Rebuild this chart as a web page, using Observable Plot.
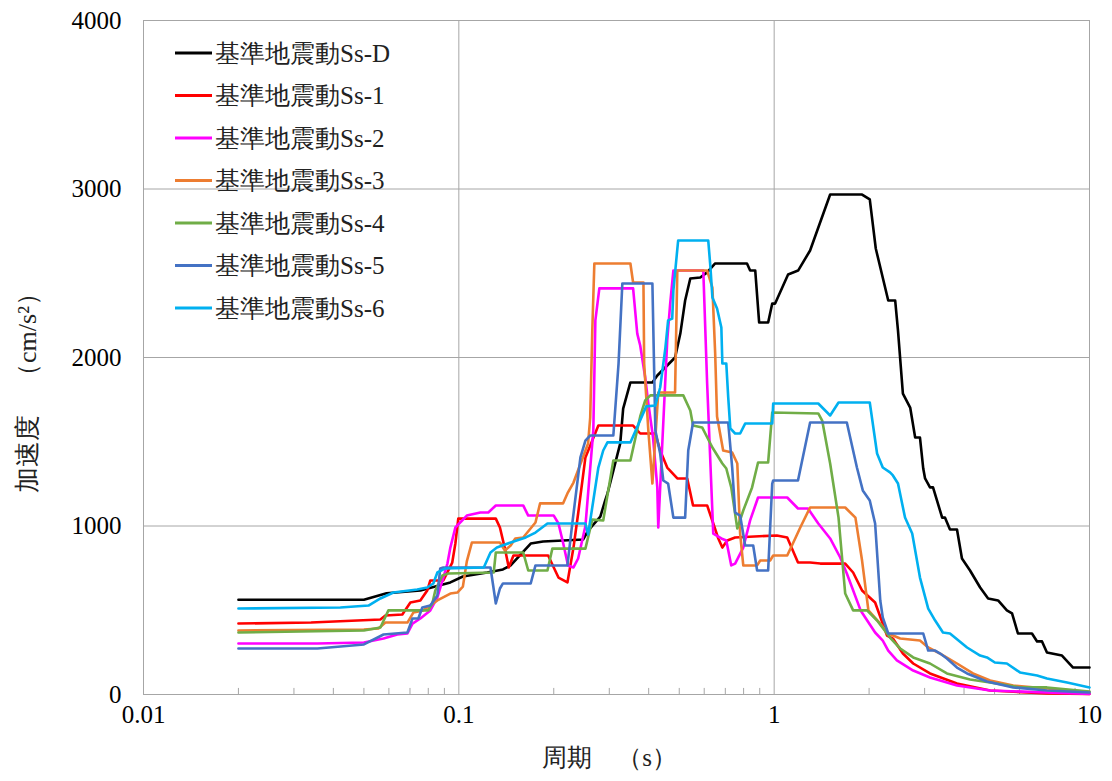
<!DOCTYPE html>
<html>
<head>
<meta charset="utf-8">
<script src="https://cdn.jsdelivr.net/npm/d3@7"></script>
<script src="https://cdn.jsdelivr.net/npm/@observablehq/plot@0.6"></script>
<style>
  html, body { margin: 0; padding: 0; background: #fff; }
  #chart { position: relative; width: 1112px; height: 781px; }
</style>
</head>
<body>
<div id="chart"></div>
<script>
// ---- Data: [period (s), acceleration (cm/s²)] ----
const seriesNames = ["基準地震動Ss-D","基準地震動Ss-1","基準地震動Ss-2","基準地震動Ss-3","基準地震動Ss-4","基準地震動Ss-5","基準地震動Ss-6"];
const seriesColors = ["#000000","#ff0000","#ff00ff","#ed7d31","#70ad47","#4472c4","#00b0f0"];

const ssD = [[0.02,562],[0.05,562],[0.059,601],[0.0755,617],[0.094,665],[0.103,700],[0.123,724],[0.138,742],[0.146,766],[0.169,896],[0.185,908],[0.248,920],[0.257,973],[0.281,1056],[0.291,1150],[0.296,1192],[0.309,1329],[0.325,1490],[0.332,1697],[0.35,1852],[0.411,1852],[0.426,1893],[0.485,2000],[0.504,2142],[0.522,2338],[0.542,2469],[0.583,2475],[0.613,2505],[0.65,2558],[0.82,2558],[0.839,2516],[0.871,2516],[0.896,2208],[0.957,2208],[0.986,2320],[1.007,2320],[1.107,2493],[1.191,2516],[1.30,2635],[1.505,2967],[1.90,2967],[2.01,2938],[2.10,2647],[2.30,2338],[2.42,2338],[2.47,2160],[2.56,1786],[2.70,1703],[2.80,1525],[2.90,1525],[2.97,1341],[3.01,1282],[3.12,1229],[3.19,1229],[3.41,1050],[3.48,1050],[3.61,979],[3.80,979],[3.94,807],[4.18,736],[4.50,635],[4.77,570],[5.13,558],[5.47,499],[5.68,481],[5.93,362],[6.57,362],[6.82,315],[7.07,315],[7.33,249],[8.18,231],[8.87,160],[10,160]];

const ss1 = [[0.02,421],[0.034,427],[0.0564,445],[0.0585,469],[0.0662,475],[0.0702,546],[0.0755,558],[0.0794,617],[0.0812,677],[0.0893,677],[0.0953,783],[0.0975,896],[0.0996,1044],[0.131,1044],[0.135,991],[0.140,866],[0.144,754],[0.149,825],[0.192,825],[0.200,754],[0.207,694],[0.221,665],[0.231,872],[0.239,1074],[0.252,1407],[0.265,1507],[0.277,1596],[0.357,1596],[0.376,1549],[0.420,1549],[0.435,1448],[0.458,1347],[0.493,1282],[0.530,1282],[0.553,1122],[0.613,1122],[0.641,1015],[0.665,926],[0.685,872],[0.710,914],[0.752,932],[1.02,944],[1.10,932],[1.19,783],[1.30,783],[1.40,777],[1.68,777],[1.78,724],[1.90,617],[2.09,546],[2.28,350],[2.38,332],[2.56,243],[2.76,184],[3.12,125],[3.80,65],[4.84,24],[7.33,6],[10,3]];

const ss2 = [[0.02,303],[0.0356,303],[0.05,309],[0.0577,332],[0.0638,356],[0.0687,362],[0.0713,421],[0.0755,451],[0.0812,499],[0.0855,576],[0.0893,694],[0.092,777],[0.094,872],[0.0975,991],[0.106,1062],[0.117,1080],[0.124,1080],[0.131,1122],[0.160,1122],[0.166,1062],[0.200,1062],[0.207,1015],[0.214,902],[0.222,766],[0.231,754],[0.239,807],[0.252,1000],[0.267,1567],[0.271,2220],[0.279,2410],[0.357,2410],[0.368,2142],[0.376,2071],[0.390,1881],[0.399,1727],[0.413,1525],[0.426,1229],[0.429,991],[0.458,2101],[0.468,2320],[0.479,2516],[0.596,2516],[0.613,1846],[0.641,955],[0.680,926],[0.705,914],[0.731,766],[0.752,777],[0.798,872],[0.839,1033],[0.889,1169],[1.10,1169],[1.19,1104],[1.28,1104],[1.38,1015],[1.505,926],[1.62,813],[1.70,718],[1.88,499],[2.09,368],[2.21,320],[2.30,261],[2.45,202],[2.76,142],[3.12,101],[3.80,53],[4.84,24],[10,3]];

const ss3 = [[0.02,380],[0.05,386],[0.0556,392],[0.0585,427],[0.0687,427],[0.0718,487],[0.0771,499],[0.0812,528],[0.0855,558],[0.094,599],[0.0989,605],[0.103,640],[0.106,790],[0.110,902],[0.135,902],[0.140,855],[0.146,884],[0.151,926],[0.160,932],[0.175,1021],[0.181,1134],[0.214,1134],[0.221,1193],[0.231,1258],[0.257,1490],[0.261,1644],[0.265,2160],[0.269,2558],[0.350,2558],[0.357,2445],[0.385,2445],[0.387,1964],[0.399,1567],[0.411,1252],[0.429,1792],[0.485,1792],[0.493,2516],[0.613,2516],[0.637,2415],[0.650,2024],[0.659,1650],[0.689,1448],[0.736,1436],[0.764,1371],[0.780,955],[0.798,766],[0.883,766],[0.903,795],[0.971,795],[0.993,825],[1.10,825],[1.17,932],[1.21,991],[1.30,1110],[1.68,1110],[1.81,1050],[1.90,795],[1.99,499],[2.17,421],[2.30,362],[2.51,332],[2.90,320],[3.08,279],[3.36,243],[3.80,184],[4.27,125],[4.84,83],[5.73,53],[7.33,36],[10,15]];

const ss4 = [[0.02,368],[0.05,380],[0.0564,398],[0.0598,499],[0.080,499],[0.0824,540],[0.0842,617],[0.0887,706],[0.0926,718],[0.129,724],[0.131,843],[0.160,843],[0.166,736],[0.191,736],[0.198,866],[0.252,866],[0.265,1038],[0.287,1033],[0.309,1389],[0.350,1389],[0.376,1650],[0.390,1745],[0.405,1775],[0.515,1775],[0.542,1685],[0.553,1596],[0.591,1585],[0.637,1466],[0.685,1371],[0.705,1341],[0.731,1229],[0.764,985],[0.798,1092],[0.851,1229],[0.889,1377],[0.957,1377],[0.986,1674],[1.38,1668],[1.42,1626],[1.505,1371],[1.60,1050],[1.68,599],[1.78,499],[1.97,499],[2.12,439],[2.33,338],[2.51,273],[2.76,220],[3.12,184],[3.53,125],[4.18,89],[4.84,71],[6.02,42],[7.33,42],[10,18]];

const ss5 = [[0.02,273],[0.0356,273],[0.05,297],[0.0577,356],[0.0687,368],[0.0713,451],[0.0744,451],[0.0766,516],[0.0812,528],[0.0855,588],[0.0873,748],[0.0893,754],[0.126,754],[0.131,540],[0.135,629],[0.138,659],[0.169,659],[0.175,766],[0.221,766],[0.229,1015],[0.243,1407],[0.252,1507],[0.261,1537],[0.309,1537],[0.321,1964],[0.330,2439],[0.411,2439],[0.420,1567],[0.435,1430],[0.445,1270],[0.461,1252],[0.479,1050],[0.522,1050],[0.534,1448],[0.553,1614],[0.715,1614],[0.736,1347],[0.752,1080],[0.780,1062],[0.809,884],[0.858,884],[0.883,736],[0.957,736],[0.986,1252],[0.993,1270],[1.19,1270],[1.30,1614],[1.70,1614],[1.83,1347],[1.91,1211],[2.01,1151],[2.09,1015],[2.17,558],[2.21,457],[2.30,362],[2.97,362],[3.08,261],[3.24,261],[3.36,243],[3.53,214],[3.80,160],[4.09,125],[4.73,77],[5.73,42],[7.33,24],[10,12]];

const ss6 = [[0.02,510],[0.0421,516],[0.0517,528],[0.0564,570],[0.0620,605],[0.0738,623],[0.0794,635],[0.0830,659],[0.0855,724],[0.0906,748],[0.120,754],[0.126,843],[0.132,872],[0.146,902],[0.163,932],[0.175,961],[0.191,1015],[0.252,1015],[0.257,950],[0.267,1151],[0.277,1347],[0.287,1448],[0.296,1496],[0.350,1496],[0.393,1710],[0.420,1715],[0.435,1822],[0.452,2059],[0.461,2220],[0.475,2231],[0.479,2397],[0.496,2694],[0.618,2694],[0.628,2534],[0.637,2356],[0.659,2291],[0.680,2178],[0.685,1964],[0.705,1964],[0.715,1763],[0.726,1579],[0.752,1549],[0.780,1549],[0.809,1608],[0.986,1608],[0.993,1727],[1.38,1727],[1.505,1656],[1.60,1733],[2.01,1733],[2.12,1430],[2.21,1347],[2.33,1318],[2.38,1300],[2.47,1252],[2.60,1050],[2.74,955],[2.90,694],[3.08,510],[3.24,439],[3.43,368],[3.61,362],[4.09,279],[4.50,231],[4.73,220],[5.01,190],[5.47,184],[6.02,131],[6.82,113],[7.33,95],[8.49,71],[10,42]];

const seriesData = [ssD, ss1, ss2, ss3, ss4, ss5, ss6];

const xTicks = [0.01, 0.1, 1, 10];
const xMinorTicks = [0.02,0.03,0.04,0.05,0.06,0.07,0.08,0.09,0.2,0.3,0.4,0.5,0.6,0.7,0.8,0.9,2,3,4,5,6,7,8,9];
const yTicks = [0, 1000, 2000, 3000, 4000];
const yGrid = [1000, 2000, 3000];
const xGrid = [0.1, 1];
const xLabel = "周期　（s）";
const yLabel = "加速度　（cm/s²）";

// ---- Build table ----
const rows = [];
seriesData.forEach((arr, i) => arr.forEach(([t, a]) => rows.push({series: seriesNames[i], t, a})));

const font = "Liberation Serif";
const gridColor = "#a6a6a6";

const chart = Plot.plot({
  width: 1112,
  height: 781,
  marginLeft: 143,
  marginRight: 23,
  marginTop: 20,
  marginBottom: 87,
  style: {fontSize: "25px", color: "#000", background: "#fff"},
  x: {type: "log", domain: [0.01, 10]},
  y: {domain: [0, 4000]},
  color: {domain: seriesNames, range: seriesColors},
  marks: [
    Plot.gridX(xGrid, {stroke: gridColor, strokeOpacity: 1}),
    Plot.gridY(yGrid, {stroke: gridColor, strokeOpacity: 1}),
    Plot.ruleX(xMinorTicks, {y1: 0, y2: 36, stroke: gridColor}),
    Plot.frame({stroke: gridColor}),
    Plot.axisX(xTicks, {tickSize: 0, tickPadding: 11, tickFormat: d => String(d), label: null, fontSize: 25}),
    Plot.axisY(yTicks, {tickSize: 0, tickPadding: 22, tickFormat: d => String(d), label: null, fontSize: 25}),
    Plot.line(rows, {x: "t", y: "a", z: "series", stroke: "series", strokeWidth: 2.6, strokeLinejoin: "round", curve: "linear"}),
    Plot.text([xLabel], {frameAnchor: "bottom", textAnchor: "middle", dx: -7, dy: 71, fontSize: 25, fill: "#222"}),
    Plot.text([yLabel], {frameAnchor: "left", textAnchor: "middle", dx: -116, dy: 29, rotate: -90, fontSize: 26, fill: "#222"})
  ]
});

document.getElementById("chart").appendChild(chart);

// ---- Legend inside the plot area ----
const svg = d3.select(chart);
const lg = svg.append("g").attr("font-size", 25).attr("text-anchor", "start");
seriesNames.forEach((name, i) => {
  const cy = 53 + i * 42.5;
  lg.append("line").attr("x1", 175).attr("x2", 212).attr("y1", cy).attr("y2", cy)
    .attr("stroke", seriesColors[i]).attr("stroke-width", 3);
  lg.append("text").attr("x", 215).attr("y", cy).attr("dy", "0.35em")
    .attr("text-anchor", "start").attr("fill", "#222").text(name);
});
svg.attr("font-family", font);
svg.selectAll("g").attr("font-family", null);
svg.selectAll("text").attr("font-family", font);
</script>
</body>
</html>
